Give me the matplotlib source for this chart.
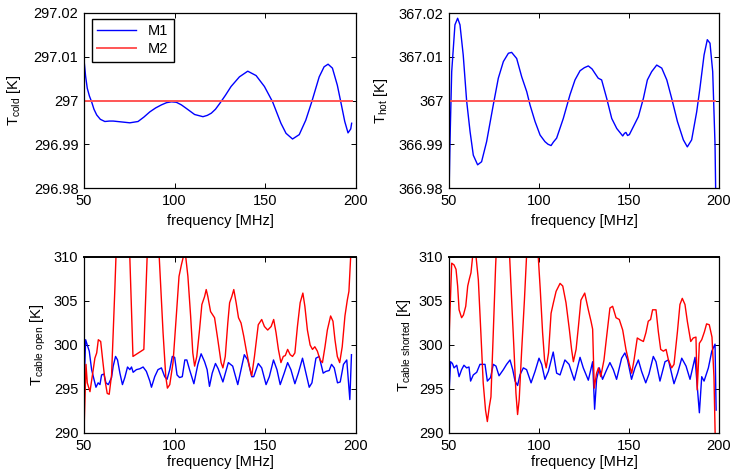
import matplotlib
matplotlib.use('Agg')
import matplotlib.pyplot as plt

plt.rcParams['font.family'] = ['Liberation Sans', 'DejaVu Sans']
plt.rcParams['mathtext.fontset'] = 'custom'
plt.rcParams['mathtext.rm'] = 'Liberation Sans'
plt.rcParams['mathtext.it'] = 'Liberation Sans:italic'
plt.rcParams['font.size'] = 10.5

# reference load temperatures (M2 is flat)
f_ref = [50, 197.6]
t_cold_m2 = [297.0, 297.0]
t_hot_m2 = [367.0, 367.0]

# T_cold, M1
f_cold = [50, 50.9, 51.8, 53, 54.2, 55.5, 57, 59, 61.5, 64, 66.1, 70.7, 75.3, 79.8, 83,
          86.3, 89.5, 92.7, 95.5, 98.2, 100.9, 103.7, 106.4, 111, 115.6, 118, 120.2, 122.5,
          125, 128, 131.1, 135.7, 140.3, 144.9, 149.5, 154, 158.6, 161.4, 165, 168.7, 172.3,
          175.6, 179.7, 182.4, 184.6, 187, 189.7, 191.6, 193.8, 195.6, 197.1, 197.6]
t_cold_m1 = [297.0093, 297.0055, 297.0028, 297.0010, 296.9997, 296.9980, 296.9967, 296.9957,
             296.9952, 296.9953, 296.9953, 296.9951, 296.9949, 296.9952, 296.9962, 296.9974,
             296.9983, 296.9990, 296.9995, 296.9997, 296.9996, 296.9990, 296.9982, 296.9968,
             296.9963, 296.9966, 296.9971, 296.9980, 296.9994, 297.0012, 297.0032, 297.0054,
             297.0067, 297.0057, 297.0032, 296.9997, 296.9948, 296.9925, 296.9912, 296.9922,
             296.9955, 296.9997, 297.0054, 297.0077, 297.0083, 297.0074, 297.0035, 296.9997,
             296.9952, 296.9926, 296.9935, 296.9948]

# T_hot, M1
f_hot = [50, 50.6, 51.5, 53.3, 54.8, 56.1, 57.9, 59.8, 61.7, 63.5, 65.9, 68.1, 70.9, 74.6,
         77.4, 80.2, 83, 84.8, 87.6, 90.4, 93.2, 95, 97.8, 100.6, 103.3, 105, 106.7, 108,
         109.8, 113.5, 117.2, 120, 122.8, 125.2, 127.4, 129.5, 131.1, 132.9, 134.8, 137.6,
         140.4, 143.2, 146.5, 147.5, 148.3, 149.2, 150.2, 152.4, 155.2, 158, 160.2, 162.6,
         165.4, 168.2, 171, 173.7, 176.9, 180.2, 182.4, 184.8, 187.6, 189.4, 191.7, 193.5,
         195, 196.5, 197.8, 198.3]
t_hot_m1 = [366.978, 366.9914, 367.0066, 367.0173, 367.0188, 367.0173, 367.0104, 366.9999,
            366.9929, 366.9875, 366.9853, 366.9860, 366.9906, 366.9990, 367.0051, 367.0089,
            367.0108, 367.0110, 367.0096, 367.0054, 367.0020, 366.9990, 366.9952, 366.9921,
            366.9906, 366.9900, 366.9897, 366.9905, 366.9914, 366.9959, 367.0013, 367.0047,
            367.0068, 367.0075, 367.0079, 367.0072, 367.0062, 367.0051, 367.0047, 367.0005,
            366.9959, 366.9936, 366.9919, 366.9925, 366.9927, 366.9920, 366.9922, 366.9940,
            366.9963, 367.0005, 367.0047, 367.0066, 367.0081, 367.0074, 367.0047, 367.0005,
            366.9952, 366.9910, 366.9894, 366.9910, 366.9974, 367.0028, 367.0104, 367.0139,
            367.0131, 367.0066, 366.9898, 366.975]

# T_cable_open, M1
f_open_m1 = [50, 50.9, 51.8, 52.9, 54.2, 55.5, 56.6, 57.8, 58.8, 59.7, 61, 62.1, 63.4, 65.2,
             66.1, 67.4, 68.5, 69.8, 71.2, 72.5, 74, 75.3, 76.2, 77.1, 78.9, 80.8, 82.6, 84.4,
             86.3, 87.2, 89, 90.8, 92.7, 94.5, 95.8, 97.3, 98.7, 100, 101.3, 102.7, 104.2,
             105.6, 106.7, 108.2, 110.6, 112.8, 114.6, 116.5, 117.9, 119.2, 120.7, 122.5,
             124, 126.6, 129.6, 132, 134.8, 136.6, 138.4, 140.3, 142.5, 143.6, 146.1, 148,
             150.4, 152.2, 154.5, 156.4, 158.2, 160.4, 162.3, 164.1, 166.3, 168.2, 170.5,
             172.4, 174.2, 175.7, 177.9, 179.7, 181.9, 183.4, 185.2, 186.5, 188, 189.8, 191.3,
             193.1, 194.9, 196.6, 197.5]
t_open_m1 = [294.9, 300.6, 300.0, 299.3, 297.2, 296.1, 295.2, 295.7, 295.5, 296.6, 296.7,
             295.7, 295.5, 296.3, 297.6, 298.7, 298.3, 296.8, 295.5, 296.3, 297.5, 297.2,
             297.5, 296.9, 297.2, 297.3, 297.5, 297.0, 295.9, 295.2, 296.4, 297.2, 297.4,
             296.4, 296.1, 297.2, 298.7, 298.6, 296.6, 296.3, 296.4, 298.3, 298.3, 297.2,
             295.6, 297.8, 299.0, 298.1, 297.2, 295.3, 296.8, 297.9, 297.3, 295.8, 298.0,
             297.6, 295.5, 297.2, 298.9, 298.3, 296.4, 296.4, 297.9, 297.4, 295.5, 296.4,
             298.3, 297.2, 295.5, 296.8, 298.0, 297.2, 295.6, 296.8, 298.5, 296.8, 295.2,
             295.7, 298.5, 298.7, 296.8, 297.0, 297.1, 297.8, 297.4, 295.7, 295.8, 297.8,
             298.3, 293.8, 298.9]

# T_cable_open, M2
f_open_m2 = [50, 51.1, 51.8, 53.3, 54.8, 56, 57, 57.9, 59.2, 60.3, 61.5, 62.8, 63.9, 65.2,
             66.1, 67, 68.3, 71, 74.5, 77, 83, 86.2, 88.5, 91, 93.6, 95.1, 96, 97.3, 99.1,
             100.9, 102.4, 103.7, 105.1, 106, 107.3, 108.8, 110, 111, 112.2, 113.7, 115,
             116.5, 117.4, 118.3, 119.8, 122, 123.8, 125.6, 126.6, 127.9, 129.3, 130.3,
             131.5, 132.6, 133.9, 135.2, 136.6, 138.1, 139.4, 141.2, 142.5, 144, 146.1, 148,
             149.5, 151.3, 153.2, 154.6, 155.9, 157.2, 158.6, 159.9, 161, 162.3, 163.7, 165,
             166.3, 167.7, 169.2, 170.7, 171.8, 173.2, 174.7, 176, 177.3, 178.7, 180.2,
             181.5, 182.9, 184.2, 186, 187.3, 188.4, 189.7, 191, 192.4, 193.9, 195.2, 196.1,
             197, 197.5]
t_open_m2 = [290.2, 297.8, 295.7, 294.7, 296.8, 298.5, 299.1, 300.6, 300.4, 298.3, 296.1,
             294.5, 294.4, 296.6, 301.4, 306.3, 314.0, 322.0, 315.0, 298.7, 299.5, 318.0,
             322.0, 312.0, 301.4, 296.4, 295.1, 295.5, 298.0, 303.3, 307.8, 309.1, 310.3,
             310.2, 307.8, 303.3, 299.1, 297.6, 298.7, 301.7, 304.6, 305.5, 306.3, 305.5,
             303.8, 303.1, 300.6, 298.0, 297.4, 298.7, 302.5, 304.8, 305.5, 306.3, 304.8,
             303.1, 302.5, 301.0, 299.5, 297.6, 296.5, 298.7, 302.3, 302.9, 302.1, 301.7,
             302.1, 302.9, 301.4, 299.5, 298.0, 298.7, 298.8, 299.5, 298.9, 298.7, 299.1,
             302.1, 304.8, 305.9, 304.4, 301.7, 300.0, 299.5, 299.8, 299.3, 298.3, 298.0,
             299.8, 301.7, 303.3, 302.7, 300.6, 298.7, 298.0, 299.8, 303.3, 305.1, 306.1,
             309.8, 312.0]

# T_cable_shorted, M1
f_short_m1 = [50, 50.9, 51.9, 52.8, 54.3, 55.6, 57, 58.3, 59.8, 61.1, 62, 63.5, 65.4, 67.2,
              69.1, 70, 71.3, 73.1, 74.6, 76.1, 77.8, 80.2, 82, 83.9, 85.4, 86.7, 88.1, 89.4,
              91.3, 93.1, 95.6, 97.8, 100, 101.5, 103.3, 105.2, 107.9, 109.8, 111.7, 114.4,
              116.7, 119.6, 122.8, 124.6, 127.4, 129.8, 130.9, 132, 133.5, 135.3, 137.6,
              139.4, 141.3, 143.1, 145.9, 147.7, 149.2, 151.4, 153.3, 155.2, 157, 159.3,
              161.1, 163.5, 165, 167.2, 170, 171.9, 175, 177, 179.3, 181.7, 183.9, 186.7,
              187.6, 189.1, 190.4, 191.7, 194.1, 196, 197.8, 198.4]
t_short_m1 = [294.5, 298.1, 297.9, 297.4, 297.7, 296.4, 297.2, 297.7, 297.4, 297.5, 295.9,
              296.6, 296.9, 297.8, 297.8, 297.8, 295.9, 296.3, 297.8, 297.6, 296.5, 297.2,
              297.8, 298.3, 297.2, 295.9, 295.4, 296.6, 297.4, 297.2, 295.7, 297.0, 298.5,
              297.8, 296.1, 297.0, 299.2, 296.8, 296.6, 298.3, 297.8, 296.0, 298.6, 297.4,
              296.0, 298.1, 292.7, 296.1, 297.4, 296.1, 297.2, 298.0, 297.2, 296.1, 298.5,
              299.1, 298.3, 296.1, 297.4, 298.3, 297.0, 295.7, 296.7, 298.7, 298.1, 295.9,
              298.1, 298.3, 295.6, 296.8, 298.5, 297.6, 296.1, 298.6, 296.1, 292.3, 296.4,
              295.9, 297.4, 299.3, 300.1, 292.6]

# T_cable_shorted, M2
f_short_m2 = [50, 51.5, 52.8, 53.9, 54.8, 55.6, 57, 58, 59.3, 60.4, 61.3, 62.2, 63.5, 64.8,
              66.3, 67.7, 69, 70.3, 71.3, 72.4, 73.3, 74.6, 75.9, 77.5, 80, 82.8, 84.8, 86.1,
              87.2, 88.1, 89, 90.4, 91.9, 93.3, 96, 99, 100.7, 102, 103.1, 104, 105.3, 106.7,
              108, 109.5, 111.7, 113.2, 115, 116.9, 118.1, 119.1, 120.6, 121.9, 123.3, 125.4,
              127.4, 128.9, 129.8, 130.7, 132, 133, 134.3, 136.1, 137.6, 139.4, 140.9, 142.8,
              144.6, 146.5, 148.3, 150.2, 151.5, 152.8, 154.6, 156.1, 158, 159.4, 160.7, 162,
              163.1, 165, 166.3, 167.6, 169.1, 170.6, 171.9, 173.7, 175, 176.9, 178.3, 179.6,
              181.1, 182.4, 184.3, 185.7, 187.2, 187.9, 189.1, 190.4, 191.9, 193.1, 194.6,
              196.1, 197.2, 197.9]
t_short_m2 = [300.6, 309.3, 309.1, 308.6, 306.7, 304.0, 303.1, 303.4, 304.4, 306.7, 307.5,
              308.2, 310.8, 310.5, 307.4, 301.4, 295.7, 292.6, 291.3, 293.0, 294.1, 301.4,
              309.0, 316.0, 320.0, 314.0, 305.1, 299.5, 294.5, 292.1, 293.8, 299.5, 305.1,
              311.0, 322.0, 312.0, 306.3, 301.4, 298.3, 297.4, 299.1, 303.6, 304.8, 306.1,
              307.0, 306.7, 304.8, 301.7, 299.5, 298.1, 299.5, 302.1, 305.1, 305.9, 304.0,
              302.7, 301.8, 295.1, 296.8, 297.4, 296.4, 298.3, 301.0, 304.2, 304.4, 303.1,
              302.9, 301.7, 299.5, 297.8, 296.8, 298.3, 300.8, 300.6, 300.4, 301.4, 302.7,
              302.9, 304.0, 304.0, 301.5, 299.5, 299.3, 299.5, 298.3, 297.4, 297.8, 301.5,
              304.6, 305.3, 304.6, 302.7, 300.4, 300.8, 300.9, 294.9, 300.2, 300.6, 301.5,
              302.4, 302.3, 300.9, 296.4, 289.5]

x_ticks = [50, 100, 150, 200]
cold_ticks = [296.98, 296.99, 297.0, 297.01, 297.02]
cold_labels = ['296.98', '296.99', '297', '297.01', '297.02']
hot_ticks = [366.98, 366.99, 367.0, 367.01, 367.02]
hot_labels = ['366.98', '366.99', '367', '367.01', '367.02']
cable_ticks = [290, 295, 300, 305, 310]

W, H = 734, 471
fig = plt.figure(figsize=(W / 100, H / 100), dpi=100)


def make_axes(x0, y0, x1, y1):
    return fig.add_axes([x0 / W, 1 - y1 / H, (x1 - x0) / W, (y1 - y0) / H])


def style(ax, yticks, ylabels, ylabel, label_x, xpad=5):
    ax.set_xlim(50, 200)
    ax.set_ylim(yticks[0], yticks[-1])
    ax.set_xticks(x_ticks)
    ax.set_yticks(yticks)
    ax.set_yticklabels(ylabels)
    ax.tick_params(direction='in', top=True, right=True, length=3.5, width=0.7,
                   labelsize=10.5, pad=4)
    for s in ax.spines.values():
        s.set_linewidth(0.9)
    ax.set_xlabel('frequency [MHz]', fontsize=10.5, labelpad=xpad)
    ax.set_ylabel(ylabel, fontsize=10.5)
    ax.yaxis.set_label_coords(label_x, 0.5)


ax1 = make_axes(84, 13, 356, 188)
ax1.plot(f_cold, t_cold_m1, color='#0000ff', lw=1.0, label='M1')
ax1.plot(f_ref, t_cold_m2, color='#ff5555', lw=1.4, label='M2')
style(ax1, cold_ticks, cold_labels, r'T$_{\mathrm{cold}}$ [K]', -0.224)
ax1.legend(loc='upper left', bbox_to_anchor=(0.029, 0.966), borderaxespad=0,
           fancybox=False, edgecolor='k', framealpha=1, handlelength=2.7,
           fontsize=10.5, labelspacing=0.3, borderpad=0.35)

ax2 = make_axes(449, 13, 719, 188)
ax2.plot(f_hot, t_hot_m1, color='#0000ff', lw=1.0)
ax2.plot(f_ref, t_hot_m2, color='#ff5555', lw=1.4)
style(ax2, hot_ticks, hot_labels, r'T$_{\mathrm{hot}}$ [K]', -0.219)

ax3 = make_axes(84, 257, 356, 433)
ax3.plot(f_open_m1, t_open_m1, color='#0000ff', lw=1.0)
ax3.plot(f_open_m2, t_open_m2, color='#ff0000', lw=1.0)
style(ax3, cable_ticks, [str(v) for v in cable_ticks],
      r'T$_{\mathrm{cable\ open}}$ [K]', -0.132, xpad=1.5)
ax3.spines['top'].set_linewidth(1.4)

ax4 = make_axes(449, 257, 719, 433)
ax4.plot(f_short_m1, t_short_m1, color='#0000ff', lw=1.0)
ax4.plot(f_short_m2, t_short_m2, color='#ff0000', lw=1.0)
style(ax4, cable_ticks, [str(v) for v in cable_ticks],
      r'T$_{\mathrm{cable\ shorted}}$ [K]', -0.133, xpad=1.5)
ax4.spines['top'].set_linewidth(1.4)

fig.savefig('out.png', dpi=100)
